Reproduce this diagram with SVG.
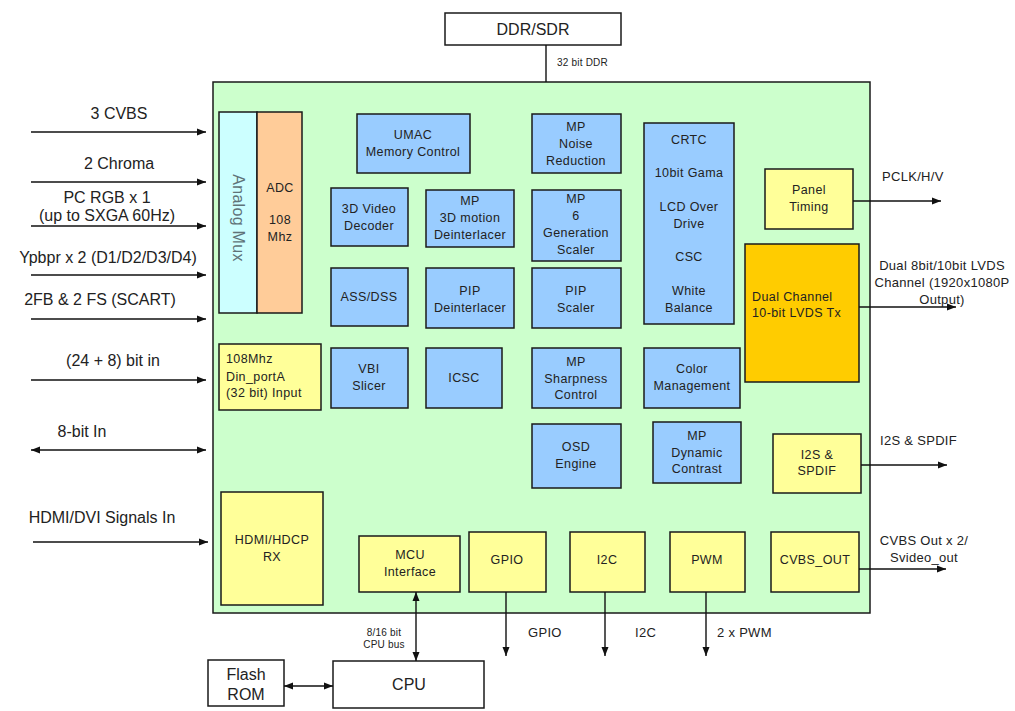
<svg xmlns="http://www.w3.org/2000/svg" width="1015" height="711" viewBox="0 0 1015 711">
<defs>
<marker id="ah" markerUnits="userSpaceOnUse" markerWidth="9" markerHeight="8" refX="9" refY="4" orient="auto-start-reverse">
<path d="M0,0.5 L9,4 L0,7.5 z" fill="#111"/>
</marker>
<style>
rect{stroke:#1a1a1a;stroke-width:1.5}
rect.bg{stroke:none;fill:#ffffff}
.g{fill:#ccffcc}
.b{fill:#99ccff}
.y{fill:#ffff99}
.o{fill:#ffcc99}
.c{fill:#ccffff}
.d{fill:#ffcc00}
.w{fill:#ffffff}
text{font-family:"Liberation Sans",Arial,sans-serif;fill:#222}
.t{font-size:12.5px;letter-spacing:0.4px;text-anchor:middle}
.tl{font-size:12.5px;letter-spacing:0.4px}
.L{font-size:16px;text-anchor:middle}
.R{font-size:13px;letter-spacing:0.3px}
.Rm{font-size:13px;letter-spacing:0.3px;text-anchor:middle}
.s{font-size:10px;letter-spacing:0.2px}
.sm{font-size:10px;letter-spacing:0.2px;text-anchor:middle}
.cn line{stroke:#111;stroke-width:1.4}
</style>
</defs>
<rect class="bg" width="1015" height="711"/>

<g id="chip"><rect class="g" x="213" y="82" width="657" height="531"/></g>

<g id="ddr"><rect class="w" x="445" y="13" width="176" height="32"/><text class="L" x="533" y="35">DDR/SDR</text></g>

<g id="analog-mux"><rect class="c" x="219" y="112" width="38" height="201"/><text transform="translate(232.5,218) rotate(90)" style="font-size:16px;letter-spacing:0.3px;fill:#5f7378;text-anchor:middle">Analog Mux</text></g>
<g id="adc"><rect class="o" x="257" y="112" width="45" height="201"/><text class="t" x="280" y="192">ADC</text><text class="t" x="280" y="224">108</text><text class="t" x="280" y="241">Mhz</text></g>

<g id="din"><rect class="y" x="219" y="344" width="102" height="66"/><text class="tl" x="226" y="363">108Mhz</text><text class="tl" x="226" y="381">Din_portA</text><text class="tl" x="226" y="397">(32 bit) Input</text></g>

<g id="hdmi-rx"><rect class="y" x="221" y="492" width="102" height="113"/><text class="t" x="272" y="544">HDMI/HDCP</text><text class="t" x="272" y="561">RX</text></g>

<g id="umac"><rect class="b" x="357" y="114" width="113" height="59"/><text class="t" x="413" y="139">UMAC</text><text class="t" x="413" y="156">Memory Control</text></g>
<g id="noise"><rect class="b" x="532" y="114" width="89" height="59"/><text class="t" x="576" y="131">MP</text><text class="t" x="576" y="148">Noise</text><text class="t" x="576" y="165">Reduction</text></g>
<g id="vdec"><rect class="b" x="331" y="188" width="77" height="58"/><text class="t" x="369" y="213">3D Video</text><text class="t" x="369" y="230">Decoder</text></g>
<g id="deint3d"><rect class="b" x="426" y="190" width="88" height="57"/><text class="t" x="470" y="205">MP</text><text class="t" x="470" y="222">3D motion</text><text class="t" x="470" y="239">Deinterlacer</text></g>
<g id="scaler"><rect class="b" x="532" y="190" width="89" height="71"/><text class="t" x="576" y="203">MP</text><text class="t" x="576" y="220">6</text><text class="t" x="576" y="237">Generation</text><text class="t" x="576" y="254">Scaler</text></g>
<g id="assdss"><rect class="b" x="331" y="268" width="77" height="58"/><text class="t" x="369" y="301">ASS/DSS</text></g>
<g id="pipdeint"><rect class="b" x="426" y="268" width="88" height="60"/><text class="t" x="470" y="295">PIP</text><text class="t" x="470" y="312">Deinterlacer</text></g>
<g id="pipscaler"><rect class="b" x="532" y="268" width="89" height="60"/><text class="t" x="576" y="295">PIP</text><text class="t" x="576" y="312">Scaler</text></g>
<g id="vbi"><rect class="b" x="331" y="348" width="77" height="60"/><text class="t" x="369" y="373">VBI</text><text class="t" x="369" y="390">Slicer</text></g>
<g id="icsc"><rect class="b" x="426" y="348" width="76" height="60"/><text class="t" x="464" y="382">ICSC</text></g>
<g id="sharp"><rect class="b" x="532" y="348" width="89" height="60"/><text class="t" x="576" y="366">MP</text><text class="t" x="576" y="383">Sharpness</text><text class="t" x="576" y="399">Control</text></g>
<g id="osd"><rect class="b" x="532" y="424" width="89" height="64"/><text class="t" x="576" y="451">OSD</text><text class="t" x="576" y="468">Engine</text></g>
<g id="crtc"><rect class="b" x="644" y="123" width="90" height="201"/><text class="t" x="689" y="144">CRTC</text><text class="t" x="689" y="177">10bit Gama</text><text class="t" x="689" y="211">LCD Over</text><text class="t" x="689" y="228">Drive</text><text class="t" x="689" y="261">CSC</text><text class="t" x="689" y="295">White</text><text class="t" x="689" y="312">Balance</text></g>
<g id="color"><rect class="b" x="644" y="348" width="96" height="60"/><text class="t" x="692" y="373">Color</text><text class="t" x="692" y="390">Management</text></g>
<g id="dyn"><rect class="b" x="653" y="422" width="88" height="61"/><text class="t" x="697" y="440">MP</text><text class="t" x="697" y="457">Dynamic</text><text class="t" x="697" y="473">Contrast</text></g>
<g id="panel"><rect class="y" x="765" y="169" width="88" height="60"/><text class="t" x="809" y="194">Panel</text><text class="t" x="809" y="211">Timing</text></g>
<g id="lvds"><rect class="d" x="745" y="244" width="114" height="138"/><text class="tl" x="752" y="301">Dual Channel</text><text class="tl" x="752" y="317">10-bit LVDS Tx</text></g>
<g id="i2s"><rect class="y" x="773" y="434" width="88" height="59"/><text class="t" x="817" y="459">I2S &amp;</text><text class="t" x="817" y="475">SPDIF</text></g>
<g id="mcu"><rect class="y" x="359" y="536" width="101" height="56"/><text class="t" x="410" y="559">MCU</text><text class="t" x="410" y="576">Interface</text></g>
<g id="gpio"><rect class="y" x="469" y="532" width="77" height="60"/><text class="t" x="507" y="564">GPIO</text></g>
<g id="i2c"><rect class="y" x="570" y="532" width="75" height="60"/><text class="t" x="607" y="564">I2C</text></g>
<g id="pwm"><rect class="y" x="670" y="532" width="75" height="60"/><text class="t" x="707" y="564">PWM</text></g>
<g id="cvbsout"><rect class="y" x="771" y="532" width="88" height="60"/><text class="t" x="815" y="564">CVBS_OUT</text></g>

<g id="flash"><rect class="w" x="208" y="660" width="76" height="46"/><text class="L" x="246" y="680">Flash</text><text class="L" x="246" y="700">ROM</text></g>
<g id="cpu"><rect class="w" x="333" y="661" width="151" height="47"/><text class="L" x="409" y="690">CPU</text></g>

<g id="connectors" class="cn">
<line x1="546" y1="45" x2="546" y2="82"/>
<line x1="31" y1="132" x2="206" y2="132" marker-end="url(#ah)"/>
<line x1="31" y1="182" x2="206" y2="182" marker-end="url(#ah)"/>
<line x1="31" y1="226" x2="206" y2="226" marker-end="url(#ah)"/>
<line x1="31" y1="275" x2="206" y2="275" marker-end="url(#ah)"/>
<line x1="31" y1="319" x2="206" y2="319" marker-end="url(#ah)"/>
<line x1="31" y1="380" x2="206" y2="380" marker-end="url(#ah)"/>
<line x1="31" y1="450" x2="206" y2="450" marker-start="url(#ah)" marker-end="url(#ah)"/>
<line x1="33" y1="542" x2="208" y2="542" marker-end="url(#ah)"/>
<line x1="853" y1="201" x2="941" y2="201" marker-end="url(#ah)"/>
<line x1="859" y1="307" x2="956" y2="307" marker-end="url(#ah)"/>
<line x1="861" y1="465" x2="947" y2="465" marker-end="url(#ah)"/>
<line x1="859" y1="569" x2="946" y2="569" marker-end="url(#ah)"/>
<line x1="416" y1="592" x2="416" y2="661" marker-start="url(#ah)" marker-end="url(#ah)"/>
<line x1="506" y1="592" x2="506" y2="656" marker-end="url(#ah)"/>
<line x1="605" y1="592" x2="605" y2="656" marker-end="url(#ah)"/>
<line x1="706" y1="592" x2="706" y2="656" marker-end="url(#ah)"/>
<line x1="284" y1="686" x2="333" y2="686" marker-start="url(#ah)" marker-end="url(#ah)"/>
</g>

<g id="labels">
<text class="s" x="557" y="66">32 bit DDR</text>
<text class="L" x="119" y="119">3 CVBS</text>
<text class="L" x="119" y="169">2 Chroma</text>
<text class="L" x="107" y="203">PC RGB x 1</text>
<text class="L" x="107" y="221">(up to SXGA 60Hz)</text>
<text class="L" x="108" y="263">Ypbpr x 2 (D1/D2/D3/D4)</text>
<text class="L" x="100" y="305">2FB &amp; 2 FS (SCART)</text>
<text class="L" x="113" y="366">(24 + 8) bit in</text>
<text class="L" x="82" y="437">8-bit In</text>
<text class="L" x="102" y="523">HDMI/DVI Signals In</text>
<text class="R" x="882" y="181">PCLK/H/V</text>
<text class="Rm" x="942" y="270">Dual 8bit/10bit LVDS</text>
<text class="Rm" x="942" y="287">Channel (1920x1080P</text>
<text class="Rm" x="942" y="304">Output)</text>
<text class="R" x="880" y="445">I2S &amp; SPDIF</text>
<text class="Rm" x="924" y="545">CVBS Out x 2/</text>
<text class="Rm" x="924" y="562">Svideo_out</text>
<text class="R" x="528" y="637">GPIO</text>
<text class="R" x="635" y="637">I2C</text>
<text class="R" x="717" y="637">2 x PWM</text>
<text class="sm" x="384" y="636">8/16 bit</text>
<text class="sm" x="384" y="648">CPU bus</text>
</g>
</svg>
